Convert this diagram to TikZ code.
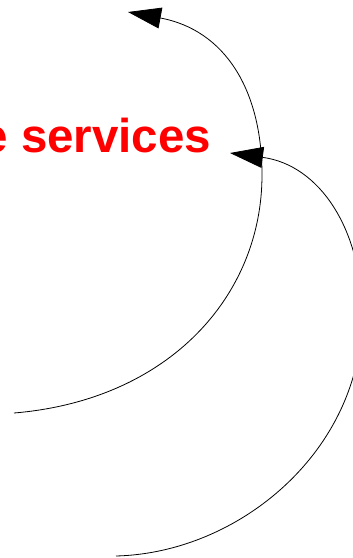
\documentclass[tikz,border=0pt]{standalone}
\usepackage{fontspec}
\setmainfont{Liberation Sans}
\usetikzlibrary{arrows.meta}
\tikzset{
  curveline/.style={draw=black, line width=0.8pt, -{Triangle[length=33pt,width=21pt]}},
  redlabel/.style={text=red, font=\bfseries\fontsize{47.5}{57}\selectfont, inner sep=0pt, anchor=base east}
}
\begin{document}
\begin{tikzpicture}[x=1pt,y=-1pt]
\useasboundingbox (0,0) rectangle (353,558);
\clip (0,0) rectangle (353,558);
\fill[white] (0,0) rectangle (353,558);
\node[redlabel] (lbl) at (211.5,152) {e services};
% curve 1
\coordinate (a0) at (14,413);
\coordinate (a1) at (262,175);
\coordinate (a2) at (128,12);
\draw[curveline] (a0) .. controls (170,400) and (262,295) .. (a1)
  .. controls (262,90) and (225,30) .. (a2);
% curve 2
\coordinate (b0) at (116,556);
\coordinate (b1) at (362,315);
\coordinate (b2) at (230,153);
\draw[curveline] (b0) .. controls (240,553) and (362,450) .. (b1)
  .. controls (362,230) and (320,165) .. (b2);
\end{tikzpicture}
\end{document}
